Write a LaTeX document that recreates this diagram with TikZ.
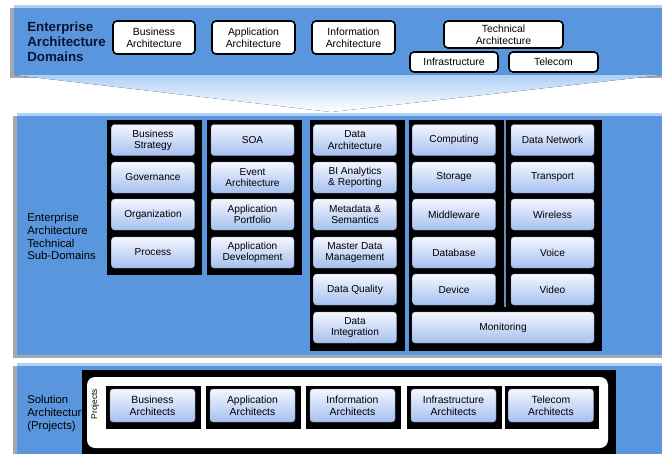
\documentclass[tikz,border=0pt]{standalone}
\usepackage{fontspec}
\setmainfont{Liberation Sans}

\newlength{\du}
\setlength{\du}{0.75pt}

\definecolor{bandblue}{RGB}{90,150,222}
\definecolor{bandlight}{RGB}{175,208,245}
\definecolor{boxtop}{RGB}{243,246,255}
\definecolor{boxbottom}{RGB}{166,192,240}
\definecolor{shadowgray}{RGB}{165,168,175}
\definecolor{titleink}{RGB}{10,20,50}

\tikzset{
  domainbox/.style={draw=black, line width=1.6\du, rounded corners=4\du, fill=white,
    align=center, inner sep=0pt, font=\fontsize{7.8}{9}\selectfont},
  subbox/.style={rounded corners=3\du, top color=boxtop, bottom color=boxbottom,
    draw=boxbottom!75!black, line width=0.3pt, align=center, inner sep=0pt,
    minimum width=83\du, minimum height=31\du, font=\fontsize{7.6}{8.4}\selectfont},
  archbox/.style={subbox, minimum width=85\du, minimum height=33\du,
    font=\fontsize{7.8}{9}\selectfont},
  bandlabel/.style={anchor=north west, align=left, inner sep=0pt,
    font=\fontsize{8.5}{9.6}\selectfont},
}

\begin{document}
\begin{tikzpicture}[x=\du, y=-\du]
\useasboundingbox (0,0) rectangle (662,454);

% top band: architecture domains
\fill[shadowgray] (10,8) rectangle (662,78);
\fill[bandblue] (14,5) rectangle (662,75);
\fill[bandlight] (14,5) rectangle (662,7.5);
\fill[top color=bandlight, bottom color=white] (14,75) -- (662,75) -- (331,112) -- cycle;

\node[bandlabel, font=\fontsize{10}{11}\bfseries, text=titleink] (domains) at (27,22)
  {Enterprise\\Architecture\\Domains};
\node[domainbox, minimum width=82\du, minimum height=33\du] (bizarch) at (154,37.5)
  {Business\\Architecture};
\node[domainbox, minimum width=83\du, minimum height=33\du] (apparch) at (253.5,37.5)
  {Application\\Architecture};
\node[domainbox, minimum width=83\du, minimum height=33\du] (infoarch) at (353.5,37.5)
  {Information\\Architecture};
\node[domainbox, minimum width=119\du, minimum height=27\du] (techarch) at (503.5,34.5)
  {Technical\\Architecture};
\node[domainbox, minimum width=88\du, minimum height=20\du] (infra) at (454,62)
  {Infrastructure};
\node[domainbox, minimum width=89\du, minimum height=20\du] (telecom) at (553.5,62)
  {Telecom};

% middle band: technical sub-domains
\fill[shadowgray] (13,116) rectangle (662,358);
\fill[bandblue] (17,113) rectangle (662,355);
\fill[bandlight] (17,113) rectangle (662,116);

\node[bandlabel] (subdomains) at (27,213)
  {Enterprise\\Architecture\\Technical\\Sub-Domains};

\fill[black] (107,120) rectangle (202,275);
\fill[black] (207,120) rectangle (302,275);
\fill[black] (310,120) rectangle (405,351);
\fill[black] (409,120) rectangle (602,351);
\fill[bandblue!55!gray] (503.5,120) rectangle (505.5,307);

\node[subbox] (strategy) at (153,140) {Business\\Strategy};
\node[subbox] (governance) at (153,177.5) {Governance};
\node[subbox] (organization) at (153,214.5) {Organization};
\node[subbox] (process) at (153,252.5) {Process};

\node[subbox] (soa) at (252.5,140) {SOA};
\node[subbox] (event) at (252.5,177.5) {Event\\Architecture};
\node[subbox] (portfolio) at (252.5,214.5) {Application\\Portfolio};
\node[subbox] (development) at (252.5,252.5) {Application\\Development};

\node[subbox] (dataarch) at (355,140) {Data\\Architecture};
\node[subbox] (bianalytics) at (355,177.5) {BI Analytics\\\& Reporting};
\node[subbox] (metadata) at (355,214.5) {Metadata \&\\Semantics};
\node[subbox] (masterdata) at (355,252.5) {Master Data\\Management};
\node[subbox] (quality) at (355,289.5) {Data Quality};
\node[subbox] (integration) at (355,327.5) {Data\\Integration};

\node[subbox] (computing) at (454,140) {Computing};
\node[subbox] (storage) at (454,177.5) {Storage};
\node[subbox] (middleware) at (454,214.5) {Middleware};
\node[subbox] (database) at (454,252.5) {Database};
\node[subbox] (device) at (454,289.5) {Device};

\node[subbox] (datanet) at (552.5,140) {Data Network};
\node[subbox] (transport) at (552.5,177.5) {Transport};
\node[subbox] (wireless) at (552.5,214.5) {Wireless};
\node[subbox] (voice) at (552.5,252.5) {Voice};
\node[subbox] (video) at (552.5,289.5) {Video};

\node[subbox, minimum width=182\du] (monitoring) at (503,327.5) {Monitoring};

% bottom band: solution architecture
\fill[shadowgray] (13,366) rectangle (662,454);
\fill[bandblue] (17,363) rectangle (662,454);
\fill[bandlight] (17,363) rectangle (662,366);

\node[bandlabel] (solution) at (27,395)
  {Solution\\Architecture\\(Projects)};

\fill[black] (82,370) rectangle (616,454);
\fill[white, rounded corners=8\du] (87,377) rectangle (608,448);
\node[rotate=90, inner sep=0pt, font=\fontsize{6.3}{7}\selectfont] (projects) at (95,404) {Projects};

\fill[black] (106,386) rectangle (201,429);
\fill[black] (206,386) rectangle (301,429);
\fill[black] (306,386) rectangle (401,429);
\fill[black] (407,386) rectangle (502,429);
\fill[black] (505,386) rectangle (599,429);

\node[archbox] (bizarchitects) at (152.5,405.5) {Business\\Architects};
\node[archbox] (apparchitects) at (252.5,405.5) {Application\\Architects};
\node[archbox] (infoarchitects) at (352.5,405.5) {Information\\Architects};
\node[archbox] (infraarchitects) at (453.5,405.5) {Infrastructure\\Architects};
\node[archbox] (telecomarchitects) at (551,405.5) {Telecom\\Architects};
\end{tikzpicture}
\end{document}
